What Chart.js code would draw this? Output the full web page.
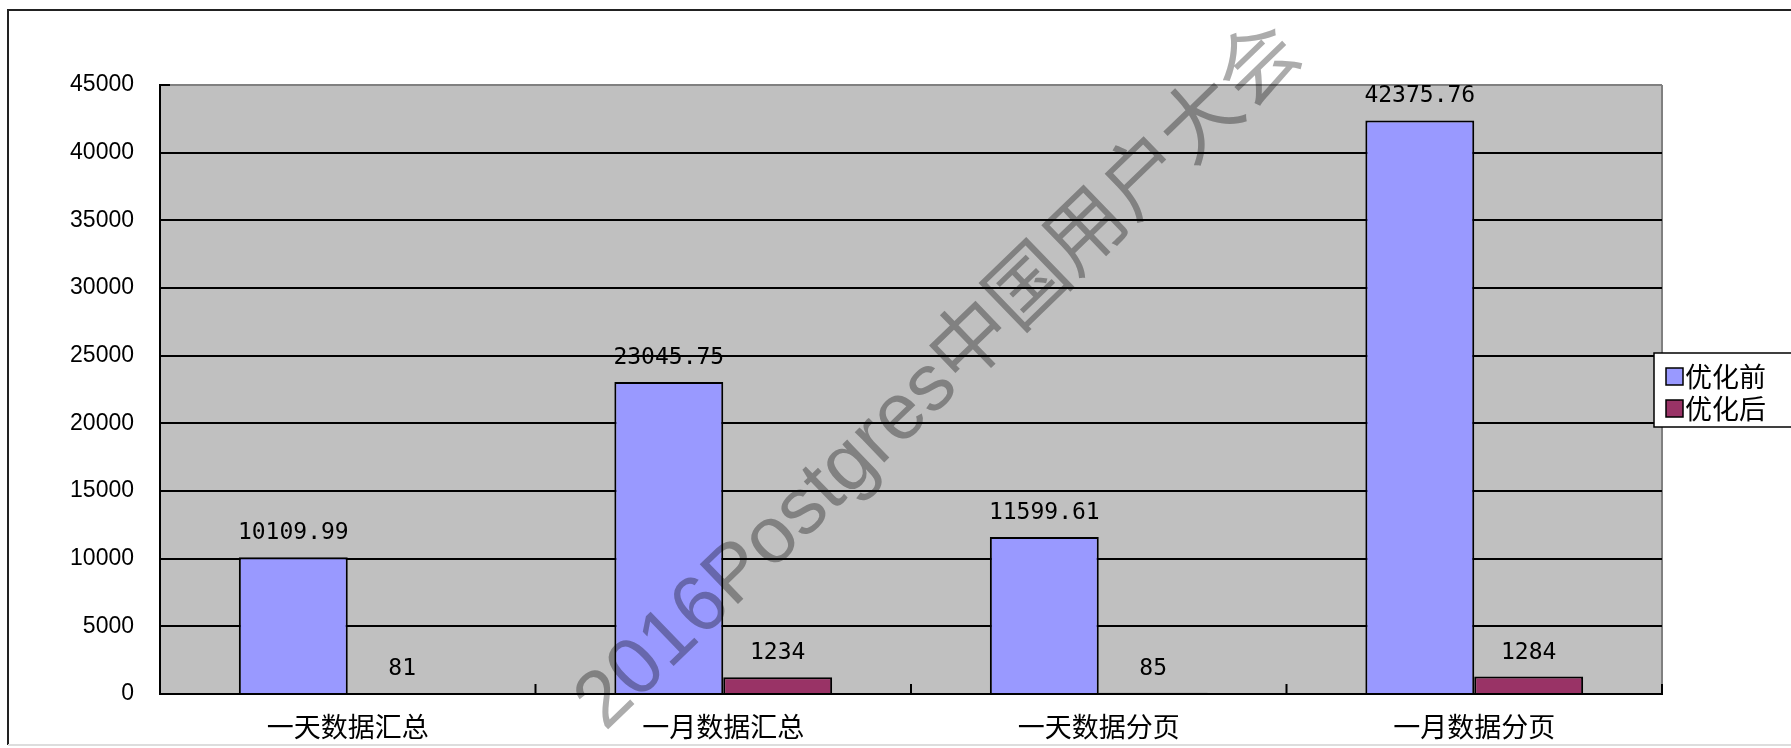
<!DOCTYPE html>
<html>
<head>
<meta charset="utf-8">
<script src="https://cdn.jsdelivr.net/npm/chart.js@4.4.0/dist/chart.umd.min.js"></script>
<style>
  html, body { margin: 0; padding: 0; background: #fff; }
  #wrap { width: 1791px; height: 748px; }
</style>
</head>
<body>
<div id="wrap"><canvas id="perf"></canvas></div>
<script>
// query timings before / after tuning
const categories = ['一天数据汇总', '一月数据汇总', '一天数据分页', '一月数据分页'];
const seriesNames = ['优化前', '优化后'];
const beforeValues = [10109.99, 23045.75, 11599.61, 42375.76];
const afterValues = [81, 1234, 85, 1284];
const yMax = 45000;
const yStep = 5000;

const CJK = '"Noto Sans CJK SC", sans-serif';

// background, frame, value labels, legend and watermark
const decor = {
  id: 'decor',
  beforeDraw(chart) {
    const { ctx, chartArea: a } = chart;
    ctx.save();
    ctx.fillStyle = '#fff';
    ctx.fillRect(0, 0, chart.width, chart.height);
    ctx.fillStyle = '#c0c0c0';
    ctx.fillRect(a.left, a.top, a.right - a.left, a.bottom - a.top);

    // outer frame
    ctx.strokeStyle = '#222';
    ctx.lineWidth = 2;
    ctx.beginPath();
    ctx.moveTo(8, 745);
    ctx.lineTo(8, 10);
    ctx.lineTo(chart.width, 10);
    ctx.stroke();
    ctx.strokeStyle = '#ddd';
    ctx.beginPath();
    ctx.moveTo(8, 745);
    ctx.lineTo(chart.width, 745);
    ctx.stroke();

    // right side of plot area
    ctx.strokeStyle = '#808080';
    ctx.beginPath();
    ctx.moveTo(a.right, a.top);
    ctx.lineTo(a.right, a.bottom);
    ctx.stroke();
    ctx.restore();
  },
  afterDatasetsDraw(chart) {
    const { ctx, chartArea: a } = chart;
    const x = chart.scales.x;
    ctx.save();

    // short upward ticks between categories
    ctx.strokeStyle = '#000';
    ctx.lineWidth = 2;
    for (let i = 0; i <= categories.length; i++) {
      let px;
      if (i === 0) px = a.left;
      else if (i === categories.length) px = a.right;
      else px = (x.getPixelForValue(i - 1) + x.getPixelForValue(i)) / 2;
      ctx.beginPath();
      ctx.moveTo(px, a.bottom);
      ctx.lineTo(px, a.bottom - 10);
      ctx.stroke();
    }
    ctx.beginPath();
    ctx.moveTo(a.left, a.top);
    ctx.lineTo(a.left + 10, a.top);
    ctx.stroke();

    // value labels above each bar
    ctx.fillStyle = '#000';
    ctx.font = '23px "DejaVu Sans Mono", monospace';
    ctx.textAlign = 'center';
    ctx.textBaseline = 'middle';
    chart.data.datasets.forEach((ds, di) => {
      chart.getDatasetMeta(di).data.forEach((bar, i) => {
        ctx.fillText(String(ds.data[i]), bar.x, bar.y - 24);
      });
    });
    ctx.restore();
  },
  afterDraw(chart) {
    const { ctx } = chart;
    ctx.save();

    // legend
    const lx = 1654, ly = 353;
    ctx.fillStyle = '#fff';
    ctx.fillRect(lx, ly, 200, 74);
    ctx.strokeStyle = '#000';
    ctx.lineWidth = 1.5;
    ctx.strokeRect(lx, ly, 200, 74);
    ctx.font = '27px ' + CJK;
    ctx.textAlign = 'left';
    ctx.textBaseline = 'middle';
    chart.data.datasets.forEach((ds, i) => {
      const cy = 376 + i * 32;
      ctx.fillStyle = ds.backgroundColor;
      ctx.fillRect(lx + 12, cy - 8, 17, 17);
      ctx.strokeStyle = '#000';
      ctx.strokeRect(lx + 12, cy - 8, 17, 17);
      ctx.fillStyle = '#000';
      ctx.fillText(ds.label, lx + 31, cy + 1);
    });

    // watermark
    ctx.globalCompositeOperation = 'multiply';
    ctx.translate(940, 378);
    ctx.rotate(-44 * Math.PI / 180);
    ctx.fillStyle = '#acacac';
    ctx.font = '80px "Liberation Sans", ' + CJK;
    ctx.textAlign = 'center';
    ctx.textBaseline = 'middle';
    ctx.fillText('2016Postgres中国用户大会', 0, 0);
    ctx.restore();
  }
};

new Chart(document.getElementById('perf'), {
  type: 'bar',
  data: {
    labels: categories,
    datasets: [
      {
        label: seriesNames[0],
        data: beforeValues,
        backgroundColor: '#9999ff',
        borderColor: '#000',
        borderWidth: 2
      },
      {
        label: seriesNames[1],
        data: afterValues,
        backgroundColor: '#993366',
        borderColor: '#000',
        borderWidth: 2
      }
    ]
  },
  options: {
    responsive: true,
    maintainAspectRatio: false,
    animation: false,
    categoryPercentage: 0.58,
    barPercentage: 1,
    layout: { padding: { top: 85, right: 129, left: 0, bottom: 0 } },
    plugins: {
      legend: { display: false },
      tooltip: { enabled: false }
    },
    scales: {
      x: {
        grid: { display: false, drawTicks: false },
        border: { color: '#000', width: 2 },
        ticks: {
          color: '#000',
          padding: 17,
          font: { family: CJK, size: 27 }
        },
        afterFit(s) { s.height = 54; }
      },
      y: {
        min: 0,
        max: yMax,
        ticks: {
          stepSize: yStep,
          color: '#000',
          padding: 26,
          font: { family: '"Liberation Sans", sans-serif', size: 23 },
          callback: v => String(v)
        },
        grid: {
          drawTicks: false,
          lineWidth: 2,
          color: c => (c.tick && c.tick.value === yMax ? '#808080' : '#000')
        },
        border: { color: '#000', width: 2 },
        afterFit(s) { s.width = 160; }
      }
    }
  },
  plugins: [decor]
});
</script>
</body>
</html>
